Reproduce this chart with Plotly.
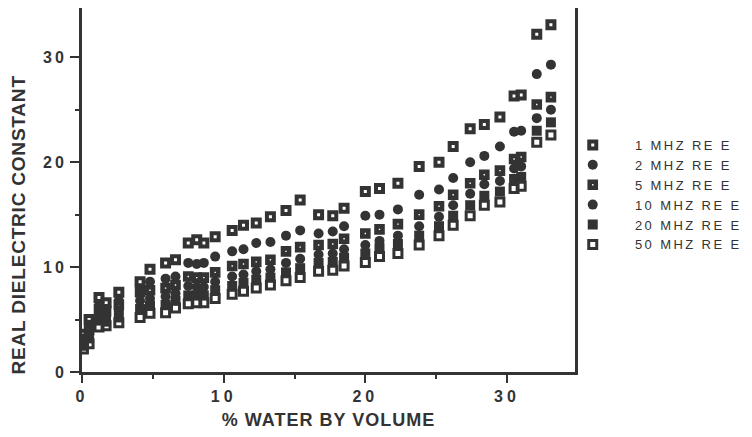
import plotly.graph_objects as go

water = [0.1, 0.5, 1.2, 1.7, 2.6, 4.1, 4.8, 5.9, 6.6, 7.5, 8.1, 8.6, 9.4, 10.6, 11.4, 12.3, 13.3,
         14.4, 15.4, 16.7, 17.7, 18.5, 20.0, 21.0, 22.3, 23.8, 25.2, 26.2, 27.4, 28.4, 29.5, 30.5,
         31.0, 32.1, 33.1]

mhz1 = [3.6, 5.0, 7.1, 6.6, 7.6, 8.6, 9.8, 10.4, 10.7, 12.3, 12.6, 12.3, 12.9, 13.5, 14.0, 14.2, 14.8,
        15.4, 16.4, 15.0, 14.9, 15.6, 17.2, 17.5, 18.0, 19.6, 20.0, 21.5, 23.2, 23.6, 24.3, 26.3,
        26.4, 32.2, 33.1]
mhz2 = [3.2, 4.5, 6.3, 6.0, 6.8, 7.9, 8.6, 8.9, 9.1, 10.4, 10.3, 10.4, 11.0, 11.5, 11.7, 12.3, 12.4,
        13.0, 13.5, 13.2, 13.4, 13.9, 14.9, 15.0, 15.5, 16.9, 17.4, 18.5, 20.0, 20.6, 21.5, 22.9,
        23.0, 28.4, 29.3]
mhz5 = [2.9, 4.0, 6.0, 5.8, 6.4, 7.6, 7.8, 8.0, 8.3, 9.1, 9.0, 9.0, 9.5, 10.1, 10.3, 10.5, 10.7,
        11.5, 11.9, 12.1, 12.2, 12.7, 13.2, 13.6, 14.1, 15.0, 15.8, 16.9, 18.0, 18.8, 19.2, 20.3,
        20.5, 25.5, 26.2]
mhz10 = [2.7, 3.6, 5.5, 5.3, 5.8, 6.8, 7.0, 7.2, 7.5, 8.2, 8.1, 8.1, 8.6, 9.1, 9.3, 9.6, 9.8,
         10.4, 10.8, 11.2, 11.3, 11.7, 12.1, 12.5, 13.0, 13.9, 14.8, 15.9, 17.0, 17.9, 18.2, 19.4,
         19.6, 24.2, 25.0]
mhz20 = [2.5, 3.2, 4.9, 4.8, 5.2, 6.0, 6.3, 6.4, 6.8, 7.3, 7.3, 7.3, 7.8, 8.2, 8.5, 8.8, 9.0,
         9.5, 9.9, 10.4, 10.5, 10.9, 11.3, 11.8, 12.2, 13.0, 13.9, 14.9, 15.9, 16.8, 17.2, 18.4,
         18.6, 23.0, 23.8]
mhz50 = [2.2, 2.7, 4.3, 4.4, 4.7, 5.2, 5.6, 5.65, 6.1, 6.5, 6.6, 6.6, 7.0, 7.4, 7.7, 8.0, 8.3,
         8.7, 9.0, 9.6, 9.7, 10.1, 10.45, 11.0, 11.3, 12.1, 13.0, 14.0, 14.9, 15.9, 16.2, 17.5,
         17.7, 21.9, 22.6]

names = ["1 MHZ RE E", "2 MHZ RE E", "5 MHZ RE E", "10 MHZ RE E", "20 MHZ RE E", "50 MHZ RE E"]
series = [mhz1, mhz2, mhz5, mhz10, mhz20, mhz50]
tick_values = [0, 10, 20, 30]
tick_labels = ["0", "10", "20", "30"]
x_title = "% WATER BY VOLUME"
y_title = "REAL DIELECTRIC CONSTANT"

INK = "#333333"
SP = '<span style="letter-spacing:{}px">{}</span>'
styles = [
    dict(symbol="square-open", size=7, line=dict(width=4, color=INK), color=INK),
    dict(symbol="circle", size=10, line=dict(width=0), color=INK),
    dict(symbol="square-open", size=6, line=dict(width=4.6, color=INK), color=INK),
    dict(symbol="circle", size=10, line=dict(width=0), color=INK),
    dict(symbol="square", size=10, line=dict(width=0), color=INK),
    dict(symbol="square-open", size=8, line=dict(width=3, color=INK), color=INK),
]

fig = go.Figure()
for name, ys, st in zip(names, series, styles):
    fig.add_trace(go.Scatter(x=water, y=ys, mode="markers",
                             name="\u00a0\u00a0" + SP.format(2.4, name), marker=st))

fig.update_layout(
    width=744, height=429,
    margin=dict(l=74, r=177, t=0, b=65, autoexpand=False),
    paper_bgcolor="white", plot_bgcolor="white",
    font=dict(family="Liberation Sans, Arial, sans-serif", color=INK),
    showlegend=True,
    legend=dict(x=0.965, y=0.665, xanchor="left", yanchor="top",
                font=dict(size=13, color=INK), itemwidth=60,
                bgcolor="rgba(0,0,0,0)"),
    annotations=[dict(text=SP.format(0.8, "<b>" + y_title + "</b>"), textangle=-90,
                      xref="paper", yref="paper", x=-0.128, y=0.405,
                      xanchor="center", yanchor="middle", showarrow=False,
                      font=dict(size=19, color=INK))],
)
fig.update_xaxes(
    range=[0, 34.8], tickvals=tick_values, ticktext=[SP.format(4, t) for t in tick_labels],
    ticks="outside", ticklen=8, tickwidth=2, automargin=False,
    tickcolor=INK, showline=True, linewidth=3, linecolor=INK, mirror=True,
    showgrid=False, zeroline=False,
    tickfont=dict(size=16, family="Liberation Sans, Arial", color=INK, weight="bold"),
    minor=dict(tickvals=[5, 15, 25], ticks="outside", ticklen=4, tickwidth=2, tickcolor=INK),
    title=dict(text=SP.format(1, "<b>" + x_title + "</b>"), font=dict(size=18, color=INK), standoff=10),
)
fig.update_yaxes(
    range=[0, 34.7], tickvals=tick_values, ticktext=[SP.format(3, t) for t in tick_labels],
    ticks="outside", ticklen=9, tickwidth=2, automargin=False,
    tickcolor=INK, showline=True, linewidth=3, linecolor=INK, mirror=True,
    showgrid=False, zeroline=False,
    tickfont=dict(size=16, family="Liberation Sans, Arial", color=INK, weight="bold"),
    minor=dict(tickvals=[5, 15, 25], ticks="outside", ticklen=4, tickwidth=2, tickcolor=INK),
)

fig.write_html("out.html")
